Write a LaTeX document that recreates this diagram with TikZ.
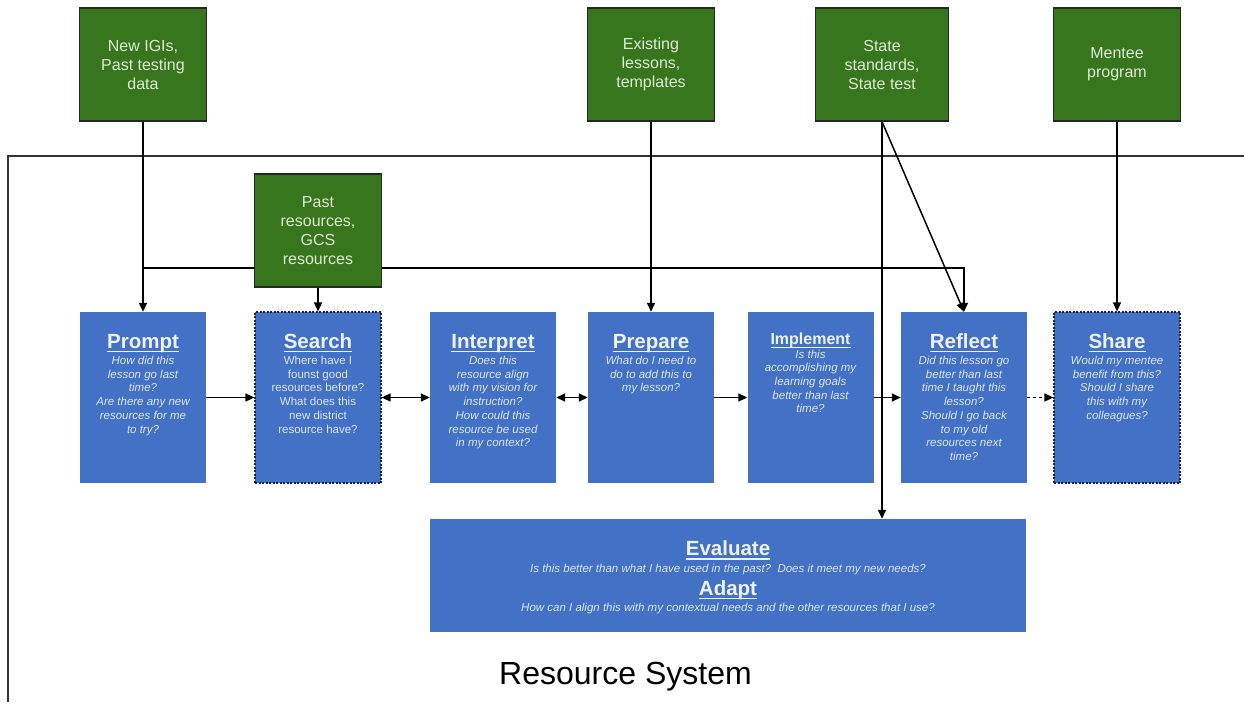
\documentclass[tikz,border=0pt]{standalone}
\usepackage{fontspec}
\setmainfont{Liberation Sans}
\usetikzlibrary{arrows.meta}

\definecolor{boxblue}{HTML}{4271C6}
\definecolor{boxgreen}{HTML}{38761D}
\definecolor{greentext}{HTML}{DDEBD6}
\definecolor{bluetitle}{HTML}{EEF3FB}
\definecolor{bluebody}{HTML}{DCE6F7}
\definecolor{dashedge}{HTML}{1A2440}
\definecolor{framegray}{HTML}{333333}

\pgfdeclarelayer{paper}
\pgfdeclarelayer{wires}
\pgfsetlayers{paper,wires,main}

% underlined heading with a heavier rule
\newsavebox\headbox
\newcommand\headul[1]{\sbox\headbox{#1}\rlap{\rule[-0.2em]{\wd\headbox}{0.065em}}\usebox\headbox}

\begin{document}
\begin{tikzpicture}[x=1pt,y=-1pt,
  stage/.style={fill=boxblue, draw=none, minimum width=126pt, minimum height=171pt, inner sep=0pt},
  dashedstage/.style={stage, draw=dashedge, dash pattern=on 2pt off 1.5pt, line width=1.2pt},
  source/.style={fill=boxgreen, draw=black!85, line width=1.4pt, minimum width=127pt,
    minimum height=113pt, inner sep=0pt, text=greentext, align=center,
    font=\fontsize{16}{19}\selectfont},
  heading/.style={text=bluetitle, font=\fontsize{20.5}{24}\selectfont\bfseries, anchor=base, inner sep=0pt},
  smallheading/.style={heading, font=\fontsize{16}{19}\selectfont\bfseries},
  question/.style={text=bluebody, font=\fontsize{11.5}{13.7}\selectfont\itshape, align=center,
    anchor=north, inner sep=0pt},
  uprightquestion/.style={question, font=\fontsize{11.5}{13.7}\selectfont},
  evalline/.style={text=bluebody, font=\fontsize{11.5}{13.7}\selectfont\itshape, anchor=base, inner sep=0pt},
  link/.style={line width=1.5pt, draw=black, -{Triangle[length=9pt,width=8pt]}},
  twoway/.style={link, {Triangle[length=9pt,width=8pt]}-{Triangle[length=9pt,width=8pt]}},
]
\useasboundingbox (0,0) rectangle (1244,702);
\begin{pgfonlayer}{paper}
  \fill[white] (0,0) rectangle (1244,702);
  % boundary of the resource system
  \draw[framegray, line width=1.3pt] (1244,156) -- (8,156) -- (8,702);
\end{pgfonlayer}

% outside inputs
\node[source] (igi) at (143,64.5) {New IGIs,\\Past testing\\data};
\node[source] (lessons) at (651,64.5) {Existing\\lessons,\\templates};
\node[source, minimum width=133pt] (state) at (882,64.5) {State\\standards,\\State test};
\node[source] (mentee) at (1117,64.5) {Mentee\\program};
\node[source] (past) at (318,230.5) {Past\\resources,\\GCS\\resources};

% stages of the cycle
\node[stage] (prompt) at (143,397.5) {};
\node[dashedstage] (search) at (318,397.5) {};
\node[stage] (interpret) at (493,397.5) {};
\node[stage] (prepare) at (651,397.5) {};
\node[stage] (implement) at (810.5,397.5) {};
\node[stage] (reflect) at (964,397.5) {};
\node[dashedstage] (share) at (1117,397.5) {};
\node[stage, minimum width=596pt, minimum height=113pt] (evaluate) at (728,575.5) {};

\node[heading] (promptT) at (143,348) {\headul{Prompt}};
\node[question] (promptQ) at (143,356) {How did this\\lesson go last\\time?\\Are there any new\\resources for me\\to try?};

\node[heading] (searchT) at (318,348) {\headul{Search}};
\node[uprightquestion] (searchQ) at (318,356) {Where have I\\founst good\\resources before?\\What does this\\new district\\resource have?};

\node[heading] (interpretT) at (493,348) {\headul{Interpret}};
\node[question] (interpretQ) at (493,356) {Does this\\resource align\\with my vision for\\instruction?\\How could this\\resource be used\\in my context?};

\node[heading] (prepareT) at (651,348) {\headul{Prepare}};
\node[question] (prepareQ) at (651,356) {What do I need to\\do to add this to\\my lesson?};

\node[smallheading] (implementT) at (810.5,344.5) {\headul{Implement}};
\node[question] (implementQ) at (810.5,349.5) {Is this\\accomplishing my\\learning goals\\better than last\\time?};

\node[heading] (reflectT) at (964,348) {\headul{Reflect}};
\node[question] (reflectQ) at (964,356) {Did this lesson go\\better than last\\time I taught this\\lesson?\\Should I go back\\to my old\\resources next\\time?};

\node[heading] (shareT) at (1117,348) {\headul{Share}};
\node[question] (shareQ) at (1117,356) {Would my mentee\\benefit from this?\\Should I share\\this with my\\colleagues?};

\node[heading] (evaluateT) at (728,555.5) {\headul{Evaluate}};
\node[evalline] (evaluateQ) at (728,572) {Is this better than what I have used in the past?\ \ Does it meet my new needs?};
\node[heading] (adaptT) at (728,595) {\headul{Adapt}};
\node[evalline] (adaptQ) at (728,611) {How can I align this with my contextual needs and the other resources that I use?};

\node[anchor=base, inner sep=0pt, font=\fontsize{32}{38}\selectfont] (system) at (625.5,684) {Resource System};

% connectors
\begin{pgfonlayer}{wires}
  \coordinate (fork) at (igi.south |- 0,268);
  \draw[link] (igi.south) -- (prompt.north);
  \draw[link] (fork) -| (reflect.north);
  \draw[link] (past.south) -- (search.north);
  \draw[link] (lessons.south) -- (prepare.north);
  \draw[link] (state.south) -- (reflect.north);
  \draw[link] (state.south) -- (state.south |- evaluate.north);
  \draw[link] (mentee.south) -- (share.north);

  \draw[link] (prompt.east) -- (search.west);
  \draw[twoway] (search.east) -- (interpret.west);
  \draw[twoway] (interpret.east) -- (prepare.west);
  \draw[link] (prepare.east) -- (implement.west);
  \draw[link] (implement.east) -- (reflect.west);
  \draw[link, dash pattern=on 3pt off 3pt] (reflect.east) -- (share.west);
\end{pgfonlayer}
\end{tikzpicture}
\end{document}
